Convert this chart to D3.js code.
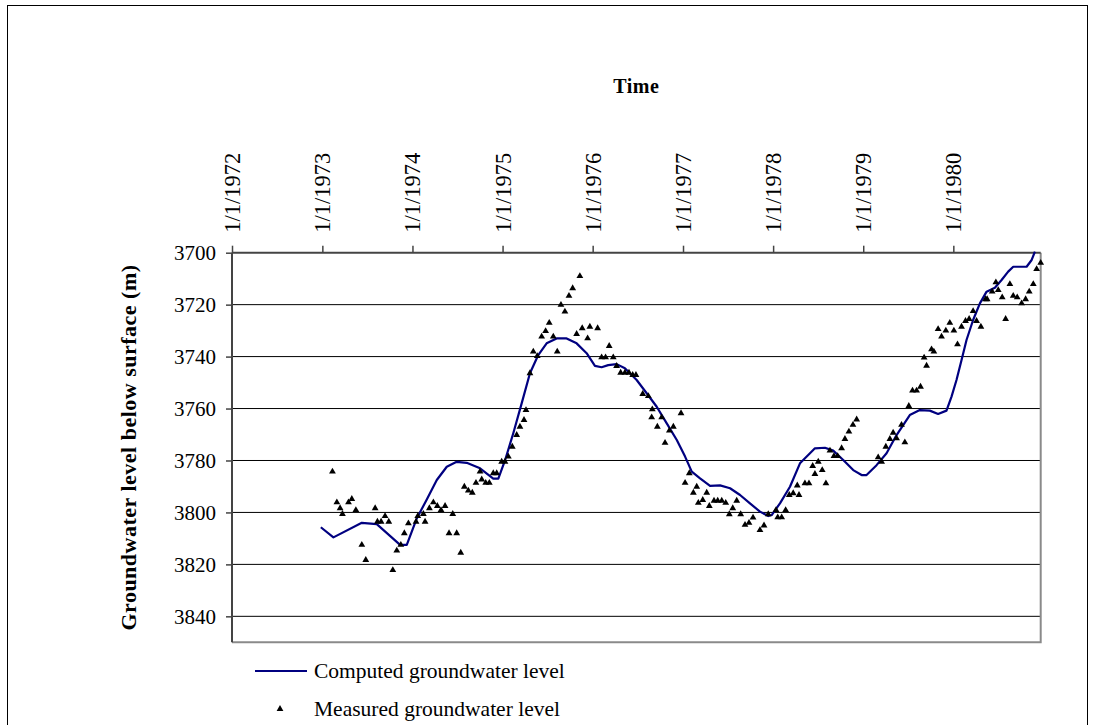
<!DOCTYPE html>
<html>
<head>
<meta charset="utf-8">
<script src="https://cdn.jsdelivr.net/npm/d3@7"></script>
<style>
  html, body { margin: 0; padding: 0; background: #fff; }
  svg { display: block; }
  text { font-family: "Liberation Serif", "Times New Roman", serif; fill: #000; }
</style>
</head>
<body>
<svg id="chart" width="1095" height="725"></svg>
<script>
// Axis ticks
const yTicks = [3700, 3720, 3740, 3760, 3780, 3800, 3820, 3840];
const xTickYears = [1972, 1973, 1974, 1975, 1976, 1977, 1978, 1979, 1980];
const xTickLabels = ["1/1/1972", "1/1/1973", "1/1/1974", "1/1/1975", "1/1/1976",
                     "1/1/1977", "1/1/1978", "1/1/1979", "1/1/1980"];

// Computed groundwater level (decimal year, depth in m)
const computedTime = [
  1972.983, 1973.123, 1973.438, 1973.604, 1973.863, 1973.937, 1974.048, 1974.159,
  1974.270, 1974.381, 1974.491, 1974.602, 1974.750, 1974.897, 1974.953, 1975.027,
  1975.119, 1975.212, 1975.304, 1975.396, 1975.489, 1975.600, 1975.711, 1975.822,
  1975.933, 1976.025, 1976.099, 1976.172, 1976.265, 1976.357, 1976.487, 1976.598,
  1976.709, 1976.820, 1976.931, 1977.023, 1977.097, 1977.189, 1977.300, 1977.411,
  1977.522, 1977.633, 1977.743, 1977.854, 1977.946, 1977.984, 1978.076, 1978.187,
  1978.298, 1978.409, 1978.464, 1978.575, 1978.667, 1978.778, 1978.889, 1978.982,
  1979.037, 1979.148, 1979.259, 1979.370, 1979.517, 1979.628, 1979.739, 1979.831,
  1979.924, 1979.980, 1980.035, 1980.091, 1980.146, 1980.219, 1980.294, 1980.368,
  1980.460, 1980.534, 1980.607, 1980.663, 1980.811, 1980.867, 1980.903
];
const computedLevel = [
  3805.7, 3809.6, 3804.0, 3804.5, 3812.5, 3812.5, 3802.3, 3795.0,
  3787.5, 3782.4, 3780.5, 3780.9, 3783.0, 3787.0, 3787.0, 3780.0,
  3769.5, 3758.0, 3746.4, 3739.4, 3734.9, 3733.0, 3733.0, 3734.9,
  3738.7, 3743.6, 3744.1, 3743.3, 3742.9, 3744.5, 3749.0, 3754.1,
  3759.3, 3765.7, 3772.1, 3778.5, 3784.3, 3786.9, 3789.8, 3789.6,
  3790.7, 3793.3, 3796.5, 3799.7, 3801.4, 3801.0, 3796.5, 3790.1,
  3781.1, 3777.2, 3775.3, 3775.1, 3776.2, 3779.8, 3783.7, 3785.6,
  3785.6, 3781.8, 3777.2, 3770.2, 3762.5, 3760.6, 3760.8, 3762.1,
  3760.8, 3755.4, 3749.0, 3741.3, 3733.6, 3725.9, 3719.5, 3715.0,
  3713.5, 3710.5, 3707.3, 3705.4, 3705.4, 3702.8, 3699.6
];

// Measured groundwater level (decimal year, depth in m)
const measuredTime = [
  1973.112, 1973.161, 1973.197, 1973.223, 1973.290, 1973.327, 1973.372, 1973.438,
  1973.482, 1973.586, 1973.611, 1973.652, 1973.696, 1973.737, 1973.782, 1973.826,
  1973.871, 1973.910, 1973.955, 1974.040, 1974.059, 1974.121, 1974.140, 1974.188,
  1974.232, 1974.276, 1974.317, 1974.362, 1974.406, 1974.447, 1974.491, 1974.536,
  1974.576, 1974.620, 1974.664, 1974.705, 1974.750, 1974.769, 1974.813, 1974.853,
  1974.897, 1974.935, 1974.990, 1975.027, 1975.064, 1975.108, 1975.157, 1975.193,
  1975.238, 1975.260, 1975.304, 1975.341, 1975.385, 1975.434, 1975.478, 1975.518,
  1975.563, 1975.607, 1975.648, 1975.692, 1975.737, 1975.778, 1975.858, 1975.822,
  1975.884, 1975.944, 1975.969, 1976.055, 1976.099, 1976.143, 1976.183, 1976.228,
  1976.265, 1976.310, 1976.357, 1976.402, 1976.443, 1976.479, 1976.554, 1976.616,
  1976.660, 1976.653, 1976.716, 1976.764, 1976.801, 1976.849, 1976.893, 1976.978,
  1977.023, 1977.070, 1977.115, 1977.152, 1977.170, 1977.219, 1977.263, 1977.292,
  1977.344, 1977.385, 1977.430, 1977.474, 1977.514, 1977.552, 1977.596, 1977.640,
  1977.688, 1977.732, 1977.777, 1977.854, 1977.899, 1977.946, 1978.032, 1978.051,
  1978.095, 1978.139, 1978.179, 1978.223, 1978.268, 1978.287, 1978.353, 1978.398,
  1978.439, 1978.464, 1978.501, 1978.545, 1978.586, 1978.631, 1978.675, 1978.716,
  1978.760, 1978.797, 1978.841, 1978.886, 1978.927, 1979.166, 1979.204, 1979.251,
  1979.296, 1979.332, 1979.370, 1979.425, 1979.462, 1979.506, 1979.547, 1979.592,
  1979.636, 1979.676, 1979.703, 1979.758, 1979.784, 1979.831, 1979.869, 1979.917,
  1979.961, 1980.006, 1980.046, 1980.091, 1980.135, 1980.175, 1980.219, 1980.257,
  1980.305, 1980.357, 1980.374, 1980.430, 1980.471, 1980.497, 1980.541, 1980.579,
  1980.626, 1980.663, 1980.707, 1980.756, 1980.800, 1980.840, 1980.885, 1980.922,
  1980.967
];
const measuredLevel = [
  3784.3, 3796.1, 3798.4, 3800.6, 3796.1, 3794.8, 3799.1, 3812.5,
  3818.3, 3798.4, 3803.6, 3803.6, 3801.4, 3803.6, 3822.2, 3814.7,
  3812.5, 3808.0, 3804.2, 3803.6, 3801.4, 3800.6, 3803.6, 3798.4,
  3796.1, 3797.5, 3799.1, 3797.5, 3808.0, 3800.6, 3808.0, 3815.5,
  3790.1, 3791.6, 3792.4, 3788.6, 3784.3, 3787.3, 3788.6, 3788.6,
  3784.9, 3784.9, 3780.5, 3780.5, 3778.5, 3774.7, 3770.2, 3767.0,
  3764.4, 3760.6, 3746.4, 3738.1, 3739.8, 3732.3, 3730.2, 3727.0,
  3732.3, 3738.1, 3720.1, 3722.7, 3716.6, 3713.7, 3709.0, 3731.3,
  3729.1, 3733.0, 3728.5, 3729.1, 3740.3, 3740.3, 3735.9, 3740.3,
  3743.6, 3746.2, 3746.2, 3746.2, 3747.1, 3747.1, 3754.4, 3755.2,
  3760.3, 3763.4, 3767.0, 3763.4, 3773.2, 3768.5, 3767.0, 3761.8,
  3788.6, 3784.9, 3792.4, 3790.1, 3796.3, 3795.2, 3792.4, 3797.5,
  3795.5, 3795.5, 3795.5, 3796.3, 3800.7, 3798.4, 3795.5, 3800.7,
  3804.8, 3804.0, 3802.0, 3806.8, 3805.0, 3800.7, 3799.1, 3801.9,
  3801.9, 3799.1, 3793.3, 3792.6, 3789.6, 3793.3, 3788.8, 3788.8,
  3782.1, 3785.2, 3780.5, 3783.7, 3788.8, 3776.2, 3778.3, 3778.3,
  3775.3, 3771.7, 3768.9, 3766.3, 3764.2, 3778.8, 3780.5, 3774.7,
  3771.7, 3769.3, 3771.5, 3766.3, 3773.0, 3759.0, 3753.1, 3753.1,
  3751.6, 3740.4, 3743.5, 3737.2, 3738.1, 3729.4, 3732.3, 3730.0,
  3727.0, 3730.0, 3735.3, 3728.5, 3726.3, 3725.5, 3722.5, 3726.3,
  3728.5, 3717.9, 3717.9, 3715.0, 3711.4, 3714.4, 3717.2, 3725.5,
  3712.1, 3716.6, 3717.2, 3719.5, 3717.9, 3715.0, 3712.1, 3706.3,
  3703.9
];

const legendLabels = ["Computed groundwater level", "Measured groundwater level"];

// Convert a decimal year into a UTC date
function fromDecimalYear(t) {
  const y = Math.floor(t);
  const a = Date.UTC(y, 0, 1), b = Date.UTC(y + 1, 0, 1);
  return new Date(a + (t - y) * (b - a));
}

const svg = d3.select("#chart");
const plot = { left: 232, right: 1040.7, top: 252.7, bottom: 642.3 };

const x = d3.scaleUtc()
  .domain([fromDecimalYear(1972), fromDecimalYear(1980.967)])
  .range([plot.left, plot.right]);
const y = d3.scaleLinear()
  .domain([3700, 3850])
  .range([plot.top, plot.bottom]);

// Outer chart frame
svg.append("rect")
  .attr("x", 7.5).attr("y", 5.5)
  .attr("width", 1080).attr("height", 740)
  .attr("fill", "#fff").attr("stroke", "#000").attr("stroke-width", 1);

// Horizontal gridlines
svg.append("g")
  .selectAll("line")
  .data(yTicks.slice(1))
  .join("line")
  .attr("x1", plot.left).attr("x2", plot.right)
  .attr("y1", d => y(d)).attr("y2", d => y(d))
  .attr("stroke", "#000").attr("stroke-width", 1);

// Plot area border (right and bottom)
svg.append("path")
  .attr("d", `M${plot.right},${plot.top} V${plot.bottom} H${plot.left}`)
  .attr("fill", "none").attr("stroke", "#8a8a8a").attr("stroke-width", 2);

// Left value axis
const yAxis = d3.axisLeft(y).tickValues(yTicks).tickSize(6).tickPadding(10)
  .tickFormat(d3.format("d"));
const gy = svg.append("g").attr("transform", `translate(${plot.left},0)`).call(yAxis);
gy.select(".domain").remove();
gy.append("line")
  .attr("x1", 0).attr("x2", 0).attr("y1", plot.top).attr("y2", plot.bottom)
  .attr("stroke", "#444").attr("stroke-width", 2);
gy.selectAll(".tick line").attr("stroke", "#444").attr("stroke-width", 1.5);
gy.selectAll(".tick text")
  .style("font-family", '"Liberation Serif", serif')
  .style("font-size", "21px").attr("fill", "#000");

// Top time axis
const tickDates = xTickYears.map(yv => fromDecimalYear(yv));
const xAxis = d3.axisTop(x).tickValues(tickDates).tickSize(7)
  .tickFormat((d, i) => xTickLabels[i]);
const gx = svg.append("g").attr("transform", `translate(0,${plot.top})`).call(xAxis);
gx.select(".domain").remove();
gx.append("line")
  .attr("x1", plot.left).attr("x2", plot.right).attr("y1", 0).attr("y2", 0)
  .attr("stroke", "#444").attr("stroke-width", 2);
gx.selectAll(".tick line").attr("stroke", "#444").attr("stroke-width", 1.5).attr("y2", -7);
gx.selectAll(".tick text")
  .style("font-family", '"Liberation Serif", serif')
  .style("font-size", "22.5px").attr("fill", "#000")
  .attr("transform", "rotate(-90)")
  .attr("text-anchor", "start")
  .attr("dominant-baseline", "central")
  .attr("x", 20).attr("y", 0);

// Axis titles
svg.append("text")
  .attr("x", (plot.left + plot.right) / 2).attr("y", 93)
  .attr("text-anchor", "middle")
  .style("font-size", "20px").style("font-weight", "bold")
  .style("letter-spacing", "0.5px")
  .text("Time");
svg.append("text")
  .attr("transform", `translate(136,${(plot.top + plot.bottom) / 2}) rotate(-90)`)
  .attr("text-anchor", "middle")
  .style("font-size", "22px").style("font-weight", "bold")
  .style("letter-spacing", "0.5px")
  .text("Groundwater level below surface (m)");

// Computed series
const computed = computedTime.map((t, i) => ({ date: fromDecimalYear(t), v: computedLevel[i] }));
svg.append("path")
  .datum(computed)
  .attr("fill", "none").attr("stroke", "#000080").attr("stroke-width", 2.2)
  .attr("stroke-linejoin", "round")
  .attr("d", d3.line().x(d => x(d.date)).y(d => y(d.v)));

// Measured series
const tri = d3.symbol().type(d3.symbolTriangle).size(20);
const measured = measuredTime.map((t, i) => ({ date: fromDecimalYear(t), v: measuredLevel[i] }));
svg.append("g")
  .selectAll("path")
  .data(measured)
  .join("path")
  .attr("transform", d => `translate(${x(d.date)},${y(d.v)})`)
  .attr("d", tri).attr("fill", "#000");

// Legend
const lg = svg.append("g");
lg.append("line").attr("x1", 255).attr("x2", 307).attr("y1", 671).attr("y2", 671)
  .attr("stroke", "#000080").attr("stroke-width", 2);
lg.append("text").attr("x", 314).attr("y", 678).style("font-size", "21.5px").text(legendLabels[0]);
lg.append("path").attr("transform", "translate(280,709)").attr("d", tri).attr("fill", "#000");
lg.append("text").attr("x", 314).attr("y", 716).style("font-size", "21.5px").text(legendLabels[1]);
</script>
</body>
</html>
